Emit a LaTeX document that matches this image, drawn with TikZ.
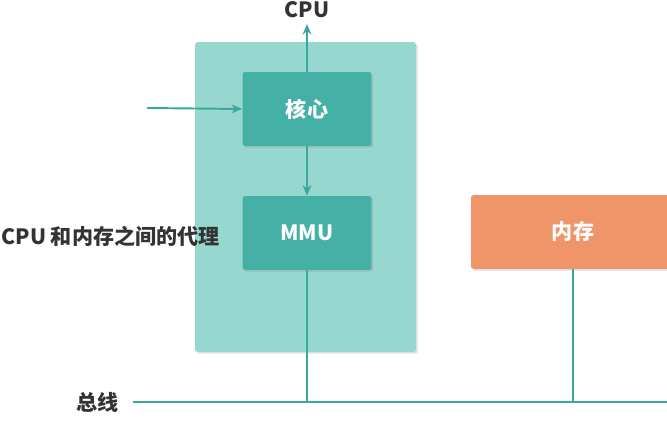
\documentclass[tikz,border=0pt]{standalone}
\usepackage{fontspec}
\setmainfont{Noto Sans CJK SC}
\usetikzlibrary{arrows.meta,shadows}
\definecolor{busline}{HTML}{3AA89C}
\definecolor{cpufill}{HTML}{96D7CF}
\definecolor{unitfill}{HTML}{45B1A6}
\definecolor{memfill}{HTML}{F0956A}
\definecolor{labeltext}{HTML}{333333}
\tikzset{
  unit/.style={rectangle, rounded corners=1.5pt, inner sep=0pt, text=white,
    font=\fontsize{12}{14}\selectfont\bfseries,
    drop shadow={shadow xshift=1pt, shadow yshift=-1pt, opacity=0.25}},
  wire/.style={busline, line width=1.1pt},
  lbl/.style={text=labeltext, inner sep=0pt, font=\fontsize{12}{15}\selectfont\bfseries}
}
\begin{document}
\begin{tikzpicture}[x=0.02cm, y=-0.02cm]
        \useasboundingbox (0,0) rectangle (667,422);
        \clip (0,0) rectangle (667,422);

        % CPU container
        \node[unit, fill=cpufill, minimum width=4.42cm, minimum height=6.2cm] (cpu) at (305.5,197) {};
        \node[unit, fill=unitfill, minimum width=2.58cm, minimum height=1.48cm] (core) at (307,109) {核心};
        \node[unit, fill=unitfill, minimum width=2.58cm, minimum height=1.48cm] (mmu) at (307,233) {MMU};

        % memory, runs off the right edge
        \node[unit, fill=memfill, minimum width=4.08cm, minimum height=1.48cm] (mem) at (573,232) {内存};

        % labels
        \node[lbl] (cpulbl) at (307,10) {CPU};
        \node[lbl, anchor=east] (proxy) at (220,236) {CPU 和内存之间的代理};
        \node[lbl, anchor=east] (buslbl) at (119,402) {总线};

        % connectors
        \coordinate (cputop) at (307,24);
        \coordinate (inport) at (147,108);
        \coordinate (busL) at (133,402);
        \coordinate (busR) at (667,402);
        \draw[wire, -{Stealth[length=6pt,width=5pt]}] (core.north) -- (cputop);
        \draw[wire, -{Stealth[length=6pt,width=5pt]}] (inport) -- (core.west);
        \draw[wire, -{Stealth[length=6pt,width=5pt]}] (core.south) -- (mmu.north);
        \draw[wire] (mmu.south) -- (mmu.south |- busL);
        \draw[wire] (mem.south) -- (mem.south |- busL);
        \draw[wire] (busL) -- (busR);
    \end{tikzpicture}
\end{document}
